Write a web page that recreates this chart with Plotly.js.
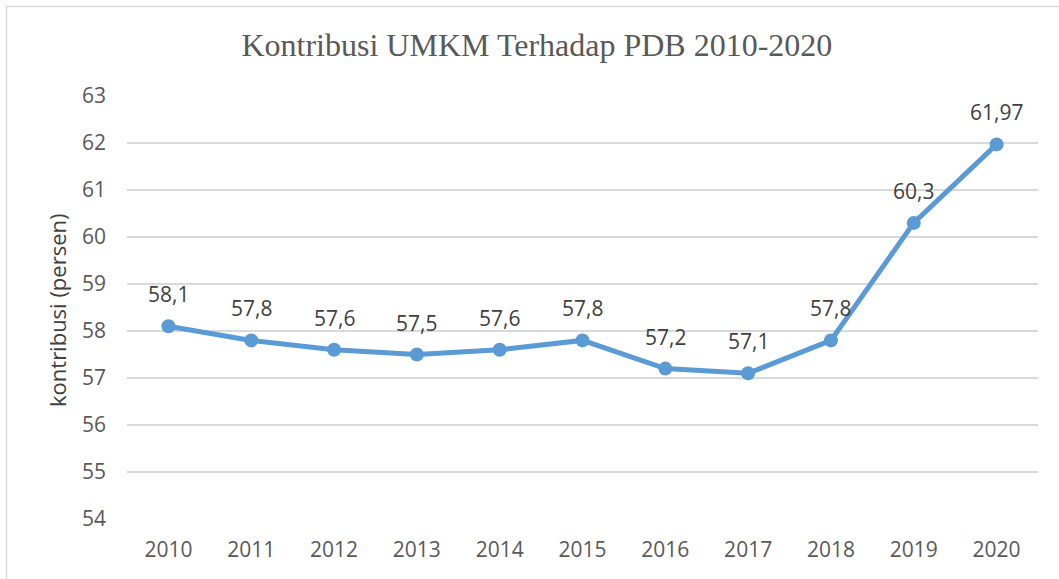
<!DOCTYPE html>
<html>
<head>
<meta charset="utf-8">
<script src="https://cdn.plot.ly/plotly-3.0.1.min.js"></script>
<style>
html,body{margin:0;padding:0;background:#fff;}
#chart{width:1059px;height:579px;}
</style>
</head>
<body>
<div id="chart"></div>
<script>
const years = [2010, 2011, 2012, 2013, 2014, 2015, 2016, 2017, 2018, 2019, 2020];
const values = [58.1, 57.8, 57.6, 57.5, 57.6, 57.8, 57.2, 57.1, 57.8, 60.3, 61.97];
const valueLabels = ["58,1", "57,8", "57,6", "57,5", "57,6", "57,8", "57,2", "57,1", "57,8", "60,3", "61,97"];
const yTicks = [54, 55, 56, 57, 58, 59, 60, 61, 62, 63];

const trace = {
  x: years,
  y: values,
  type: 'scatter',
  mode: 'lines+markers',
  line: {color: '#5B9BD5', width: 5},
  marker: {color: '#5B9BD5', size: 14},
  hoverinfo: 'skip'
};

const annotations = years.map((yr, i) => ({
  x: yr, y: values[i], xref: 'x', yref: 'y',
  text: valueLabels[i], showarrow: false,
  yshift: 32, xanchor: 'center', yanchor: 'middle',
  font: {family: 'Open Sans, sans-serif', size: 21, color: '#404040'}
}));

annotations.push({
  xref: 'paper', yref: 'paper', x: (57 - 127) / 911, y: (519 - 310) / 423,
  xanchor: 'center', yanchor: 'middle',
  text: 'kontribusi (persen)', textangle: -90, showarrow: false,
  font: {family: 'Open Sans, sans-serif', size: 22, color: '#404040'}
});

const layout = {
  width: 1059, height: 579,
  margin: {l: 127, r: 21, t: 96, b: 60},
  paper_bgcolor: '#ffffff', plot_bgcolor: '#ffffff',
  showlegend: false,
  title: {
    text: 'Kontribusi UMKM Terhadap PDB 2010-2020',
    font: {family: 'Liberation Serif, Times New Roman, serif', size: 32, color: '#595959'},
    x: 0.507, xanchor: 'center', y: 0.922, yanchor: 'middle'
  },
  xaxis: {
    range: [2009.5, 2020.5],
    tickvals: years,
    ticktext: years.map(String),
    showgrid: false, zeroline: false, showline: false,
    ticks: '', ticklabelstandoff: 16,
    tickfont: {family: 'Open Sans, sans-serif', size: 21, color: '#595959'},
    fixedrange: true
  },
  yaxis: {
    range: [54, 63],
    tickvals: yTicks,
    showgrid: true, gridcolor: '#D9D9D9', gridwidth: 1.3,
    zeroline: false, showline: false,
    ticks: '', ticklabelstandoff: 20,
    tickfont: {family: 'Open Sans, sans-serif', size: 21, color: '#595959'},
    fixedrange: true
  },
  annotations: annotations,
  shapes: [{
    type: 'rect', xref: 'paper', yref: 'paper',
    x0: (6.5 - 127) / 911, x1: (1075 - 127) / 911,
    y0: (519 - 600) / 423, y1: (519 - 6.5) / 423,
    line: {color: '#D9D9D9', width: 1.5}, fillcolor: 'rgba(0,0,0,0)', layer: 'below'
  }]
};

Plotly.newPlot('chart', [trace], layout, {displayModeBar: false, staticPlot: true});
</script>
</body>
</html>
